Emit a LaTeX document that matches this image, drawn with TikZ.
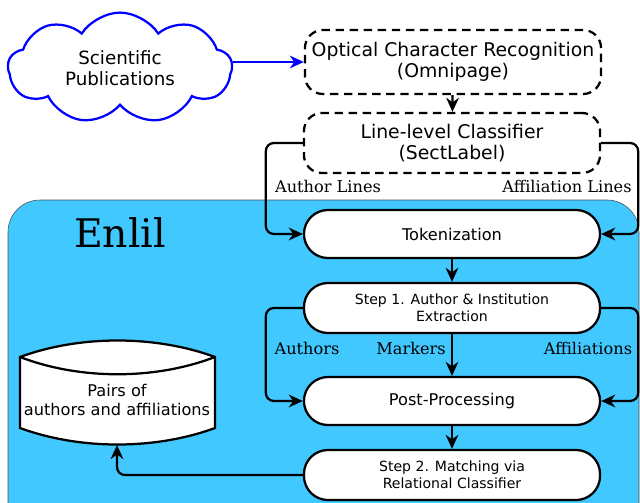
\documentclass[tikz,border=0pt]{standalone}
\usepackage{fontspec}
\setmainfont{DejaVu Serif}
\setsansfont{DejaVu Sans}
\usetikzlibrary{arrows.meta,shapes.symbols}
\definecolor{enlilblue}{RGB}{64,200,255}

\begin{document}
\begin{tikzpicture}[x=0.025cm,y=-0.025cm,>={Stealth[length=10pt,width=9pt]},
    procbox/.style={draw,line width=1.6pt,fill=white,rounded corners=0.6cm,minimum width=7.4cm,minimum height=1.2cm,align=center,font=\sffamily\fontsize{11.5}{13.5}\selectfont},
    stepbox/.style={procbox,minimum height=1.25cm,font=\sffamily\fontsize{10}{12}\selectfont},
    dashbox/.style={procbox,dash pattern=on 6pt off 4pt,rounded corners=0.45cm,font=\sffamily\fontsize{13.4}{15}\selectfont},
    flow/.style={line width=1.6pt,->,rounded corners=0.2cm},
    lbl/.style={font=\fontsize{11.5}{13}\selectfont}]
    \useasboundingbox (0,0) rectangle (640,502);
    \clip (0,0) rectangle (640,502);
    % Enlil container
    \draw[fill=enlilblue,draw=black!70,thin,rounded corners=0.8cm] (8,200) rectangle (639,540);
    \node[font=\fontsize{28}{30}\selectfont] (enlil) at (120,233) {Enlil};
    % input
    \node[cloud,draw=blue,line width=1.6pt,cloud puffs=9,cloud puff arc=115,aspect=2,minimum width=5.6cm,minimum height=2.75cm,align=center,font=\sffamily\fontsize{13}{15}\selectfont] (pubs) at (120,68) {Scientific\\Publications};
    \node[dashbox,minimum height=1.6cm] (ocr) at (453,62) {Optical Character Recognition\\(Omnipage)};
    \node[dashbox,minimum height=1.5cm] (llc) at (452,143) {Line-level Classifier\\(SectLabel)};
    % pipeline
    \node[procbox] (tok) at (452,234) {Tokenization};
    \node[stepbox] (step1) at (452,308) {Step 1. Author \& Institution\\Extraction};
    \node[procbox] (post) at (452,401) {Post-Processing};
    \node[stepbox] (step2) at (452,475) {Step 2. Matching via\\Relational Classifier};
    % output store
    \draw[line width=1.6pt,fill=white] (20,357) .. controls (80,335) and (155,335) .. (215,357) -- (215,428) .. controls (155,450) and (80,450) .. (20,428) -- cycle;
    \draw[line width=1.6pt] (20,357) .. controls (80,380) and (155,380) .. (215,357);
    \node[align=center,font=\sffamily\fontsize{11.5}{14}\selectfont] (pairs) at (117,400) {Pairs of\\authors and affiliations};
    \coordinate (pairsbot) at (117,445);
    % connectors
    \draw[flow,blue] (ocr.west -| pubs.east) -- (ocr.west);
    \draw[flow] (ocr) -- (llc);
    \draw[flow] (llc.west) -- ++(-37,0) |- (tok.west);
    \draw[flow] (llc.east) -- ++(37,0) |- (tok.east);
    \draw[flow] (tok) -- (step1);
    \draw[flow] (step1.west) -- ++(-37,0) |- (post.west);
    \draw[flow] (step1.east) -- ++(37,0) |- (post.east);
    \draw[flow] (step1) -- (post);
    \draw[flow] (post) -- (step2);
    \draw[flow] (step2.west) -| (pairsbot);
    % labels
    \node[lbl] (authlines) at (328,186) {Author Lines};
    \node[lbl] (afflines) at (567,186) {Affiliation Lines};
    \node[lbl] (authors) at (307,348) {Authors};
    \node[lbl] (markers) at (411,348) {Markers};
    \node[lbl] (affs) at (588,348) {Affiliations};
\end{tikzpicture}
\end{document}
